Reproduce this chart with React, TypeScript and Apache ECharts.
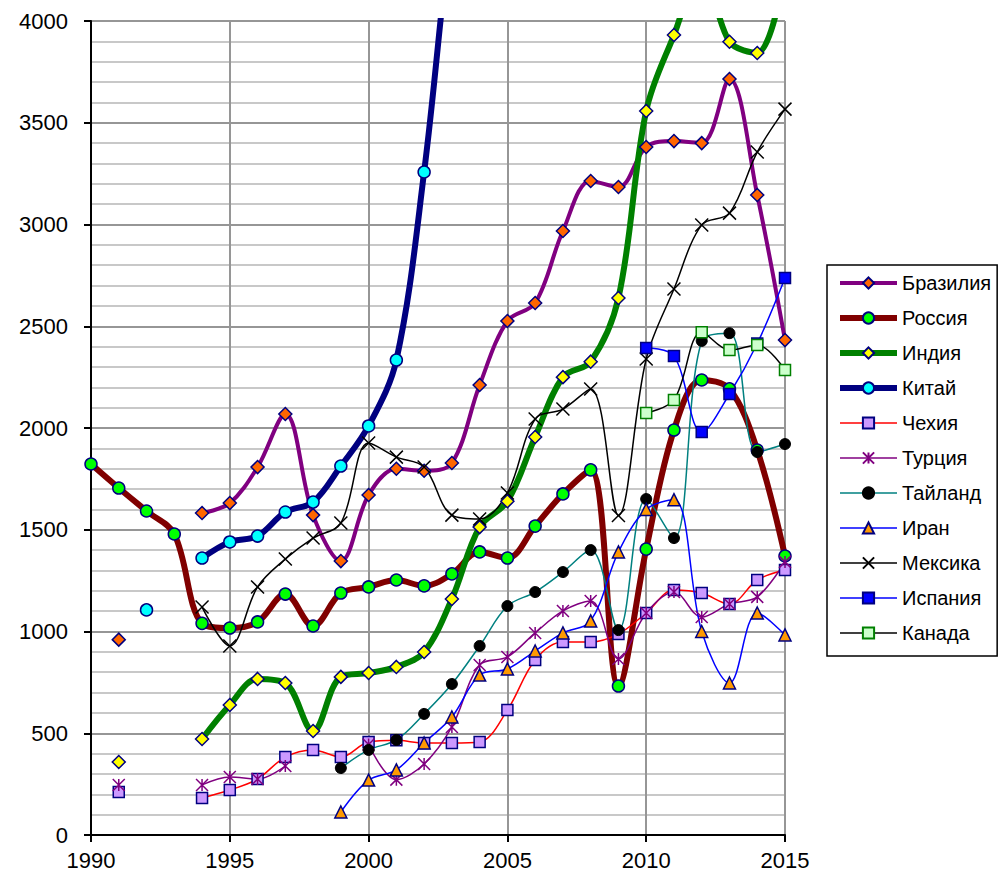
import React, { useEffect, useRef } from "react";
import * as echarts from "echarts";

const years = [1990,1991,1992,1993,1994,1995,1996,1997,1998,1999,2000,2001,2002,2003,2004,2005,2006,2007,2008,2009,2010,2011,2012,2013,2014,2015];

const brazil = [null, 960, null, null, 1582, 1631, 1808, 2069, 1572, 1346, 1671, 1800, 1790, 1828, 2211, 2526, 2614, 2968, 3214, 3184, 3381, 3410, 3400, 3715, 3145, 2432];
const russia = [1823, 1705, 1592, 1479, 1040, 1017, 1047, 1184, 1027, 1189, 1219, 1253, 1224, 1283, 1391, 1361, 1518, 1676, 1794, 732, 1405, 1990, 2236, 2192, 1892, 1371];
const india = [null, 359, null, null, 472, 639, 767, 747, 511, 777, 796, 826, 899, 1160, 1513, 1640, 1956, 2250, 2326, 2639, 3558, 3931, 4250, 3898, 3843, 4250];
const china = [null, null, 1106, null, 1361, 1440, 1469, 1587, 1636, 1813, 2010, 2334, 3258, 4500, 5400, null, null, null, null, null, null, null, null, null, null, null];
const czech = [null, 211, null, null, 182, 221, 275, 383, 418, 383, 457, 465, 452, 452, 457, 614, 860, 948, 948, 988, 1091, 1204, 1189, 1135, 1253, 1302];
const turkey = [null, 246, null, null, 246, 285, 275, 339, null, null, 445, 272, 349, 531, 835, 875, 993, 1101, 1150, 865, 1091, 1194, 1071, 1135, 1170, 1342];
const thailand = [null, null, null, null, null, null, null, null, null, 329, 418, 467, 595, 742, 929, 1125, 1194, 1292, 1400, 1007, 1651, 1459, 2428, 2466, 1882, 1921];
const iran = [null, null, null, null, null, null, null, null, null, 113, 270, 320, 452, 580, 786, 816, 904, 993, 1052, 1391, 1600, 1648, 1000, 747, 1091, 983];
const mexico = [null, null, null, null, 1120, 929, 1219, 1356, 1459, 1533, 1926, 1857, 1808, 1572, 1553, 1681, 2044, 2093, 2192, 1570, 2339, 2683, 2998, 3056, 3356, 3567];
const spain = [null, null, null, null, null, null, null, null, null, null, null, null, null, null, null, null, null, null, null, null, 2393, 2354, 1980, 2167, 2415, 2737];
const canada = [null, null, null, null, null, null, null, null, null, null, null, null, null, null, null, null, null, null, null, null, 2074, 2138, 2471, 2383, 2408, 2285];

const xTicks = [1990, 1995, 2000, 2005, 2010, 2015];
const yTicks = [0, 500, 1000, 1500, 2000, 2500, 3000, 3500, 4000];

const FONT = '"Liberation Sans", Arial, sans-serif';
const NAVY = "#000080";
const X_PATH = "path://M0,0L10,10M10,0L0,10";
const STAR_PATH = "path://M0,0L10,10M10,0L0,10M5,0L5,10";

function mk(name: string, vals: (number | null)[], color: string, width: number, symbol: string, fill: string, border: string, size: number, bw: number) {
  return {
    name,
    type: "line",
    smooth: 0.35,
    connectNulls: false,
    data: years.map((y, i) => [y, vals[i] === null ? null : vals[i]]),
    lineStyle: { color, width },
    symbol,
    symbolSize: size,
    showAllSymbol: true,
    itemStyle: { color: fill, borderColor: border, borderWidth: bw },
    emphasis: { disabled: true },
    clip: true,
  };
}

export default function App() {
  const ref = useRef<HTMLDivElement>(null);
  useEffect(() => {
    if (!ref.current) return;
    const chart = echarts.init(ref.current, null, { renderer: "svg" });
    const series = [
      mk("Бразилия", brazil, "#800080", 4, "diamond", "#FF6600", NAVY, 13, 1.5),
      mk("Россия", russia, "#800000", 6, "circle", "#00FF00", NAVY, 12, 1.5),
      mk("Индия", india, "#008000", 6, "diamond", "#FFFF00", NAVY, 13, 1.5),
      mk("Китай", china, "#000080", 6, "circle", "#00FFFF", NAVY, 12, 1.5),
      mk("Чехия", czech, "#FF0000", 1.5, "rect", "#CC99FF", NAVY, 11, 1.5),
      mk("Турция", turkey, "#800080", 1.5, STAR_PATH, "none", "#800080", 12, 1.5),
      mk("Тайланд", thailand, "#008080", 1.5, "circle", "#000000", "#000000", 11, 1),
      mk("Иран", iran, "#0000FF", 1.5, "triangle", "#FF9900", NAVY, 12, 1.5),
      mk("Мексика", mexico, "#000000", 1.5, X_PATH, "none", "#000000", 13, 1.5),
      mk("Испания", spain, "#0000FF", 1.5, "rect", "#0000FF", NAVY, 11, 1.5),
      mk("Канада", canada, "#000000", 1.5, "rect", "#CCFFCC", "#008000", 11, 1.5),
    ];
    chart.setOption({
      animation: false,
      backgroundColor: "#ffffff",
      textStyle: { fontFamily: FONT },
      grid: { left: 91, top: 21, right: 214, bottom: 38, containLabel: false },
      xAxis: {
        type: "value",
        min: xTicks[0],
        max: xTicks[xTicks.length - 1],
        interval: 5,
        axisLine: { show: true, onZero: false, lineStyle: { color: "#000", width: 2 } },
        axisTick: { show: true, length: 7, lineStyle: { color: "#000", width: 2 } },
        axisLabel: { color: "#000", fontSize: 22, fontFamily: FONT, margin: 14, formatter: (v: number) => String(v) },
        splitLine: { show: true, lineStyle: { color: "#969696", width: 2 } },
      },
      yAxis: {
        type: "value",
        min: yTicks[0],
        max: yTicks[yTicks.length - 1],
        interval: 500,
        axisLine: { show: true, lineStyle: { color: "#000", width: 2 } },
        axisTick: { show: true, length: 7, lineStyle: { color: "#000", width: 2 } },
        axisLabel: { color: "#000", fontSize: 22, fontFamily: FONT, margin: 23, formatter: (v: number) => String(v) },
        splitLine: { show: true, lineStyle: { color: "#969696", width: 2 } },
        minorTick: { show: false, splitNumber: 5 },
        minorSplitLine: { show: true, lineStyle: { color: "#c8c8c8", width: 2 } },
      },
      legend: {
        orient: "vertical",
        left: 827,
        top: 265,
        itemWidth: 57,
        itemHeight: 14,
        itemGap: 15,
        padding: [8, 6, 13, 10],
        borderColor: "#000",
        borderWidth: 1.5,
        backgroundColor: "#fff",
        textStyle: { fontSize: 20, fontFamily: FONT, color: "#000" },
        selectedMode: false,
        data: series.map((s) => ({ name: s.name, lineStyle: { width: s.lineStyle.width } })),
      },
      series,
    });
    return () => chart.dispose();
  }, []);
  return <div ref={ref} style={{ position: "fixed", left: 0, top: 0, width: 999, height: 873 }} />;
}
